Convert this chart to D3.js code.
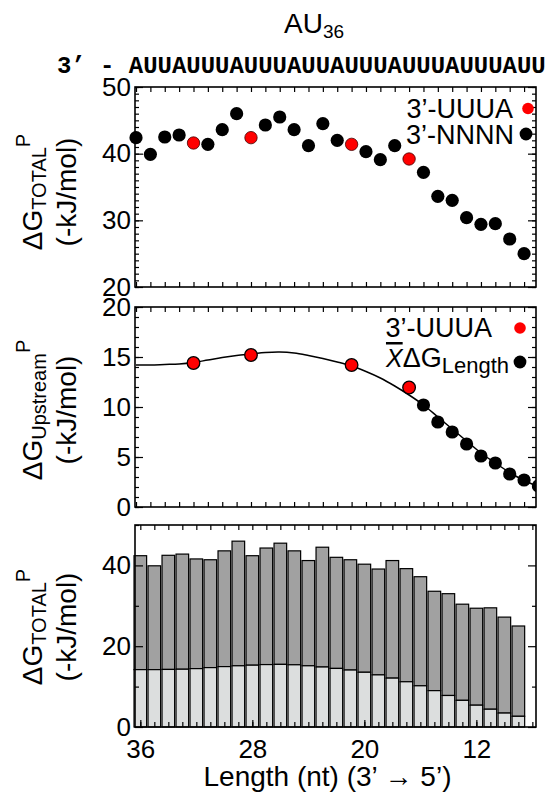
<!DOCTYPE html>
<html><head><meta charset="utf-8">
<script src="https://cdn.jsdelivr.net/npm/d3@7"></script>
<style>
body{margin:0;background:#fff;}
svg text{font-family:"Liberation Sans",Arial,Helvetica,sans-serif;fill:#000;}
</style></head><body>
<svg id="c" width="547" height="806"></svg>
<script>
// ---------------- data ----------------
const lengths = [36,35,34,33,32,31,30,29,28,27,26,25,24,23,22,21,20,19,18,17,16,15,14,13,12,11,10,9,8];
const sequence = "AUUAUUUAUUUAUUAUUUAUUUAUUUAUU";
const barLengths = [36,35,34,33,32,31,30,29,28,27,26,25,24,23,22,21,20,19,18,17,16,15,14,13,12,11,10,9];
const totalDG = [42.4,39.9,42.5,42.8,41.6,41.4,43.6,46.0,42.4,44.3,45.5,43.6,41.2,44.5,42.0,41.4,40.3,39.1,41.2,39.2,37.2,33.6,33.0,30.4,29.4,29.5,27.2,25.0];
const upstreamFit = [14.2,14.2,14.25,14.3,14.45,14.7,14.95,15.15,15.3,15.45,15.5,15.4,15.15,14.85,14.5,14.1,13.55,12.9,12.1,11.2,10.2,9.0,7.8,6.6,5.4,4.4,3.45,2.65,2.05];
const uuuaLengths = [32,28,21,17];
const uuuaUpstream = [14.4,15.2,14.2,11.95];
const meanLengths = [16,15,14,13,12,11,10,9,8];
const meanUpstream = [10.2,8.5,7.5,6.3,5.1,4.4,3.3,2.7,2.1];
const topTicks = [20,30,40,50];
const midTicks = [0,5,10,15,20];
const botTicks = [0,20,40];
const xTickLabels = [36,28,20,12];

// ---------------- layout ----------------
const svg = d3.select("#c");
const L = 135, R = 536;
const P1 = {top:87, bottom:287}, P2 = {top:307, bottom:507}, P3 = {top:525, bottom:727};
const xs = d3.scaleLinear().domain([36.07, 8.17]).range([L, R]);
const xb = d3.scaleLinear().domain([36.38, 7.74]).range([L, R]);
const y1 = d3.scaleLinear().domain([20, 50]).range([P1.bottom, P1.top]);
const y2 = d3.scaleLinear().domain([0, 20]).range([P2.bottom, P2.top]);
const y3 = d3.scaleLinear().domain([0, 50]).range([P3.bottom, P3.top]);
const FS = 28, TFS = 26, LFS = 27;

function frame(x, y, P, major, minor, xticks, labelsBottom) {
  const g = svg.append("g");
  const fmt = g => g.call(s => s.select(".domain").remove())
                    .call(s => s.selectAll("line").attr("stroke","#000").attr("stroke-width",1.2));
  g.append("g").attr("transform",`translate(${L},0)`)
    .call(d3.axisLeft(y).tickValues(minor).tickSize(-4).tickFormat("")).call(fmt);
  g.append("g").attr("transform",`translate(${R},0)`)
    .call(d3.axisRight(y).tickValues(minor).tickSize(-4).tickFormat("")).call(fmt);
  g.append("g").attr("transform",`translate(${R},0)`)
    .call(d3.axisRight(y).tickValues(major).tickSize(-8).tickFormat("")).call(fmt);
  const la = g.append("g").attr("transform",`translate(${L},0)`)
    .call(d3.axisLeft(y).tickValues(major).tickSize(-8).tickPadding(4)).call(fmt);
  la.selectAll("text").attr("font-size",TFS).attr("font-family","Liberation Sans, Arial, sans-serif").attr("fill","#000");
  g.append("g").attr("transform",`translate(0,${P.top})`)
    .call(d3.axisTop(x).tickValues(xticks).tickSize(-5).tickFormat("")).call(fmt);
  g.append("g").attr("transform",`translate(0,${P.bottom})`)
    .call(d3.axisBottom(x).tickValues(xticks).tickSize(-5).tickFormat("")).call(fmt);
  if (labelsBottom) {
    const bl = g.append("g").attr("transform",`translate(0,${P.bottom})`)
      .call(d3.axisBottom(x).tickValues(xTickLabels).tickSize(-7).tickPadding(13)).call(fmt);
    bl.selectAll("text").attr("font-size",TFS).attr("font-family","Liberation Sans, Arial, sans-serif").attr("fill","#000");
  }
  g.append("rect").attr("x",L).attr("y",P.top).attr("width",R-L).attr("height",P.bottom-P.top)
    .attr("fill","none").attr("stroke","#000").attr("stroke-width",1.6);
}

// ---------------- title and sequence ----------------
const title = svg.append("text").attr("x",284).attr("y",33).attr("font-size",FS);
title.append("tspan").text("AU");
title.append("tspan").attr("font-size",19).attr("dy",5).text("36");

const cell = xs(35) - xs(36);
const seqFS = cell / 0.6;
svg.append("text").attr("x", xs(36) - cell/2).attr("y",73)
  .attr("text-anchor","end").attr("font-size",seqFS)
  .style("font-family","'Liberation Mono','Courier New',monospace").attr("font-weight","bold")
  .attr("xml:space","preserve").text("3’ - ");
svg.append("g").selectAll("text").data(sequence.split("")).join("text")
  .attr("x",(d,i)=>xs(lengths[i])).attr("y",73).attr("text-anchor","middle")
  .attr("font-size",seqFS).style("font-family","'Liberation Mono','Courier New',monospace")
  .attr("font-weight","bold").text(d=>d);

// ---------------- panel 1 ----------------
const intTicks = d3.range(36, 8, -1);
frame(xs, y1, P1, topTicks, d3.range(20, 51, 1), intTicks, false);
const p1 = barLengths.map((l,i)=>({l, v:totalDG[i], red: uuuaLengths.includes(l)}));
svg.append("g").selectAll("circle").data(p1.filter(d=>!d.red)).join("circle")
  .attr("cx",d=>xs(d.l)).attr("cy",d=>y1(d.v)).attr("r",6.6).attr("fill","#000");
svg.append("g").selectAll("circle").data(p1.filter(d=>d.red)).join("circle")
  .attr("cx",d=>xs(d.l)).attr("cy",d=>y1(d.v)).attr("r",6.2).attr("fill","#ff0000")
  .attr("stroke","#400").attr("stroke-width",0.8);
svg.append("text").attr("x",513).attr("y",118).attr("text-anchor","end").attr("font-size",LFS).text("3’-UUUA");
svg.append("text").attr("x",514).attr("y",144).attr("text-anchor","end").attr("font-size",LFS).text("3’-NNNN");
svg.append("circle").attr("cx",528).attr("cy",108.5).attr("r",5.8).attr("fill","#ff0000");
svg.append("circle").attr("cx",526).attr("cy",134).attr("r",6.4).attr("fill","#000");

// ---------------- panel 2 ----------------
frame(xs, y2, P2, midTicks, d3.range(0, 21, 1), intTicks, false);
svg.append("clipPath").attr("id","clip2").append("rect")
  .attr("x",L).attr("y",P2.top).attr("width",R-L).attr("height",P2.bottom-P2.top);
const g2 = svg.append("g").attr("clip-path","url(#clip2)");
const line = d3.line().x(d=>xs(d[0])).y(d=>y2(d[1])).curve(d3.curveCatmullRom.alpha(0.5));
g2.append("path").datum(lengths.map((l,i)=>[l, upstreamFit[i]]))
  .attr("d",line).attr("fill","none").attr("stroke","#000").attr("stroke-width",1.5);
g2.append("g").selectAll("circle").data(meanLengths.map((l,i)=>[l, meanUpstream[i]])).join("circle")
  .attr("cx",d=>xs(d[0])).attr("cy",d=>y2(d[1])).attr("r",6.6).attr("fill","#000");
g2.append("g").selectAll("circle").data(uuuaLengths.map((l,i)=>[l, uuuaUpstream[i]])).join("circle")
  .attr("cx",d=>xs(d[0])).attr("cy",d=>y2(d[1])).attr("r",6.3).attr("fill","#ff0000")
  .attr("stroke","#000").attr("stroke-width",1.3);
svg.append("text").attr("x",492).attr("y",337).attr("text-anchor","end").attr("font-size",LFS).text("3’-UUUA");
const lg = svg.append("text").attr("x",509).attr("y",367).attr("text-anchor","end").attr("font-size",LFS);
lg.append("tspan").attr("font-style","italic").style("text-decoration","overline").attr("font-size",25).text("X");
lg.append("tspan").text("ΔG");
lg.append("tspan").attr("font-size",22).attr("dy",6).text("Length");
svg.append("circle").attr("cx",520).attr("cy",328).attr("r",5.8).attr("fill","#ff0000");
svg.append("circle").attr("cx",520).attr("cy",362).attr("r",6.4).attr("fill","#000");

// ---------------- panel 3 ----------------
const bw = (xb(35) - xb(36)) * 0.9;
const g3 = svg.append("g");
const bars = barLengths.map((l,i)=>({l, tot: totalDG[i], up: upstreamFit[i]}));
g3.selectAll("rect.dark").data(bars).join("rect").attr("class","dark")
  .attr("x",d=>xb(d.l)-bw/2).attr("width",bw)
  .attr("y",d=>y3(d.tot)).attr("height",d=>y3(d.up)-y3(d.tot))
  .attr("fill","#a1a1a1").attr("stroke","#000").attr("stroke-width",1.2);
g3.selectAll("rect.light").data(bars).join("rect").attr("class","light")
  .attr("x",d=>xb(d.l)-bw/2).attr("width",bw)
  .attr("y",d=>y3(d.up)).attr("height",d=>y3(0)-y3(d.up))
  .attr("fill","#dcdede").attr("stroke","#000").attr("stroke-width",1.2);
frame(xb, y3, P3, botTicks, [10,30,50], d3.range(36, 7, -1), true);

// ---------------- axis titles ----------------
function yLabel(cy, sub) {
  const t = svg.append("text").attr("transform",`translate(42,${cy}) rotate(-90)`)
    .attr("text-anchor","middle").attr("font-size",FS);
  t.append("tspan").text("ΔG");
  t.append("tspan").attr("font-size",20).attr("dy",4).text(sub);
  t.append("tspan").attr("font-size",20).attr("dy",-16).text("P");
  svg.append("text").attr("transform",`translate(76,${cy}) rotate(-90)`)
    .attr("text-anchor","middle").attr("font-size",FS).text("(-kJ/mol)");
}
yLabel((P1.top+P1.bottom)/2 + 5, "TOTAL");
yLabel((P2.top+P2.bottom)/2 + 3, "Upstream");
yLabel((P3.top+P3.bottom)/2 + 1, "TOTAL");
svg.append("text").attr("x",(L+R)/2 - 8).attr("y",786).attr("text-anchor","middle")
  .attr("font-size",FS).text("Length (nt) (3’ → 5’)");
</script>
</body></html>
